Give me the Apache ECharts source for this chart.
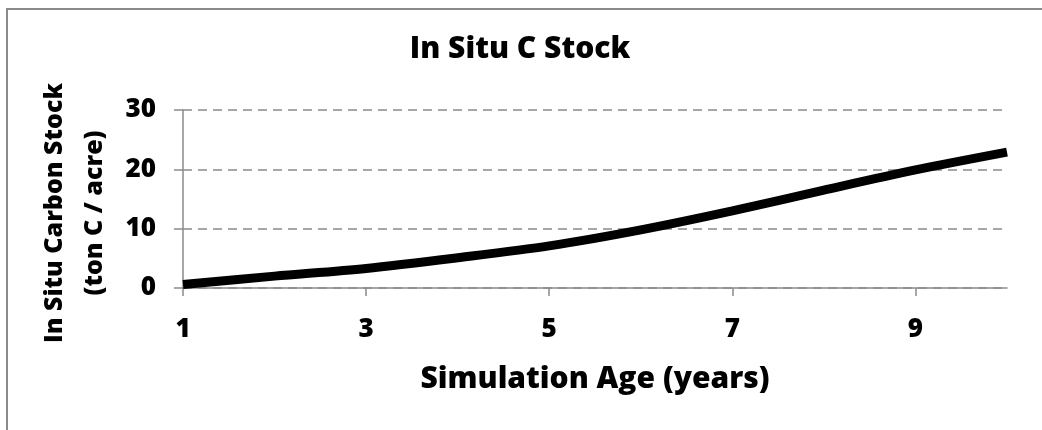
<!DOCTYPE html>
<html>
<head>
<meta charset="utf-8">
<script src="https://cdn.jsdelivr.net/npm/echarts@6/dist/echarts.min.js"></script>
<style>
  html, body { margin: 0; padding: 0; background: #fff; }
  #chart { width: 1042px; height: 430px; }
</style>
</head>
<body>
<div id="chart"></div>
<script>
var ages = ['1', '2', '3', '4', '5', '6', '7', '8', '9', '10'];
var carbonStock = [0.6, 2.0, 3.3, 5.1, 7.1, 9.8, 13.0, 16.5, 19.9, 22.9];
var yTicks = [0, 10, 20, 30];

var font = '"Open Sans", "DejaVu Sans", sans-serif';
var gray = '#8a8a8a';

var dom = document.getElementById('chart');
var myChart = echarts.init(dom);
var option = {
  backgroundColor: '#fff',
  animation: false,
  title: {
    text: 'In Situ C Stock',
    left: 515,
    top: 29,
    textAlign: 'center',
    textStyle: {
      color: '#000',
      fontFamily: font,
      fontWeight: 800,
      fontSize: 30
    }
  },
  graphic: [{
    type: 'rect',
    shape: { x: 7, y: 9, width: 1100, height: 500 },
    style: { fill: null, stroke: gray, lineWidth: 2 },
    silent: true
  }],
  grid: {
    left: 183,
    right: 35,
    top: 110,
    bottom: 142
  },
  xAxis: {
    type: 'category',
    data: ages,
    boundaryGap: false,
    name: 'Simulation Age (years)',
    nameLocation: 'middle',
    nameGap: 76,
    nameTextStyle: {
      color: '#000',
      fontFamily: font,
      fontWeight: 800,
      fontSize: 30
    },
    axisLine: { lineStyle: { color: gray, width: 1.5 } },
    axisTick: { show: true, interval: 1, length: 8, lineStyle: { color: gray, width: 1.5 } },
    axisLabel: {
      interval: 1,
      margin: 29,
      color: '#000',
      fontFamily: font,
      fontWeight: 800,
      fontSize: 26
    },
    splitLine: { show: false }
  },
  yAxis: {
    type: 'value',
    min: yTicks[0],
    max: yTicks[yTicks.length - 1],
    interval: 10,
    name: 'In Situ Carbon Stock\n(ton C / acre)',
    nameLocation: 'middle',
    nameGap: 62,
    nameTextStyle: {
      color: '#000',
      fontFamily: font,
      fontWeight: 800,
      fontSize: 25,
      lineHeight: 40,
      padding: [0, 28, 0, 0]
    },
    axisLine: { show: true, lineStyle: { color: gray, width: 1.5 } },
    axisTick: { show: true, length: 9, lineStyle: { color: gray, width: 1.5 } },
    axisLabel: {
      margin: 27,
      color: '#000',
      fontFamily: font,
      fontWeight: 800,
      fontSize: 26
    },
    splitLine: {
      show: true,
      lineStyle: { color: gray, width: 1.5, type: [9, 6] }
    }
  },
  series: [
    {
      name: 'In Situ C Stock',
      type: 'line',
      data: carbonStock,
      smooth: 0.3,
      showSymbol: false,
      lineStyle: { color: '#000', width: 9 }
    }
  ]
};
myChart.setOption(option, true);
</script>
</body>
</html>
